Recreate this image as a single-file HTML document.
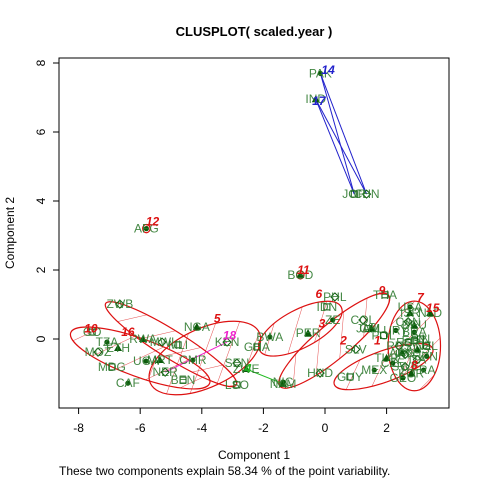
<!DOCTYPE html>
<html><head><meta charset="utf-8"><style>
body{margin:0;background:#fff;}
svg{display:block;font-family:"Liberation Sans",sans-serif;}
</style></head><body>
<svg id="chart" width="480" height="480">
<defs>
<pattern id="hatch" patternUnits="userSpaceOnUse" width="22" height="22" patternTransform="rotate(45)">
<line x1="0" y1="0" x2="0" y2="22" stroke="#d22" stroke-width="0.8"/>
</pattern>
</defs>
<text x="254" y="36" text-anchor="middle" font-size="13" font-weight="bold">CLUSPLOT( scaled.year )</text>
<rect x="59" y="58" width="390" height="350" fill="none" stroke="#000"/>
<g id="xaxis"></g>
<g id="yaxis"></g>
<g id="ellipses"></g>
<g id="links"></g>
<g id="points"></g>
<g id="clabels"></g>
<text x="254" y="459" text-anchor="middle" font-size="12">Component 1</text>
<text x="0" y="0" transform="translate(14,233) rotate(-90)" text-anchor="middle" font-size="12">Component 2</text>
<text x="59" y="475" font-size="12">These two components explain 58.34 % of the point variability.</text>
</svg>
<script>
const xTicks=[-8,-6,-4,-2,0,2];
const yTicks=[0,2,4,6,8];
const ptNames=["PAK","IND","CHN","JOR","AFG","BGD","ZWB","GO","TZA","ETH","MOZ","MDG","CAF","RWA","MWI","MLI","UGA","MRT","NER","BEN","CMR","NGA","KEN","GHA","BWA","ZWE","SEN","LSO","NIC","NAM","PHL","IDN","ZE","PER","COL","THA","USA","NLD","HND","GUY","GEO","ISR","SLV","JAM","BRA","ARG","ITA","ESP","FRA","DEU","SWE","FIN","JPN","KOR","RUS","POL","CZE","AUS","CAN","NZL","MEX","TUR","IRN","EGY","URY","CHL"];
const ptX=[-0.15,-0.3,1.35,0.95,-5.8,-0.8,-6.66,-7.56,-7.08,-6.72,-7.37,-6.92,-6.4,-5.91,-5.29,-4.77,-5.81,-5.36,-5.19,-4.61,-4.29,-4.16,-3.18,-2.21,-1.79,-2.56,-2.86,-2.86,-1.36,-1.36,0.32,0.06,0.25,-0.55,1.23,1.95,2.76,3.41,-0.16,0.81,2.53,2.76,1.0,1.4,2.9,2.5,3.0,2.7,3.2,2.9,2.6,3.1,3.3,2.8,2.4,1.9,2.2,3.0,2.7,3.3,1.6,2.0,2.6,2.9,2.3,1.5];
const ptY=[7.7,6.95,4.2,4.2,3.2,1.86,1.01,0.2,-0.09,-0.26,-0.38,-0.81,-1.28,0.0,-0.09,-0.17,-0.64,-0.61,-0.96,-1.19,-0.61,0.35,-0.09,-0.23,0.06,-0.87,-0.7,-1.33,-1.25,-1.3,1.22,0.93,0.55,0.17,0.55,1.28,0.93,0.75,-0.99,-1.1,-1.13,0.75,-0.3,0.3,0.2,-0.4,-0.6,-0.1,-0.9,0.4,-0.8,0.0,-0.5,-1.0,-0.2,0.1,-0.7,-0.3,0.5,-0.2,-0.9,-0.55,-0.45,-0.05,0.25,0.3];
const clusterLabels=["12","11","10","16","5","18","14","17","9","7","15","3","2","1","8","4","6"];
const clX=[-5.6,-0.7,-7.6,-6.4,-3.5,-3.1,0.1,-0.2,1.85,3.1,3.5,-0.1,0.6,1.7,2.9,-2.5,-0.2];
const clY=[3.4,2.0,0.3,0.2,0.6,0.1,7.8,6.9,1.4,1.2,0.9,0.45,-0.05,-0.05,-0.75,-0.85,1.3];
const clColor=["#d11","#d11","#d11","#d11","#d11","#e2c","#22c","#22c","#d11","#d11","#d11","#d11","#d11","#d11","#d11","#2b2","#d11"];
const elCx=[-6.0,-5.0,-3.9,-0.8,0.3,2.9,1.9,-5.8,-0.8];
const elCy=[-0.55,-0.15,-0.55,0.3,-0.05,-0.2,-0.8,3.2,1.86];
const elRx=[2.4,2.5,1.95,1.5,2.3,0.85,1.7,0.12,0.12];
const elRy=[0.55,0.4,0.85,0.55,0.5,1.3,0.45,0.12,0.12];
const elA=[20,32,-25,-28,-40,0,-20,0,0];
const linkFrom=[0,1,0,1,22,25];
const linkTo=[2,3,3,2,18,29];
const linkColor=["#22c","#22c","#22c","#22c","#e2c","#2b2"];

const NS="http://www.w3.org/2000/svg";
const X=v=>325+30.8*v, Y=v=>339-34.5*v;
function mk(t,a,p){const e=document.createElementNS(NS,t);for(const k in a)e.setAttribute(k,a[k]);p.appendChild(e);return e;}
const xa=document.getElementById('xaxis'),ya=document.getElementById('yaxis');
mk('line',{x1:X(-8),x2:X(2),y1:408,y2:408,stroke:'#000'},xa);
xTicks.forEach(t=>{mk('line',{x1:X(t),x2:X(t),y1:408,y2:414,stroke:'#000'},xa);
const tx=mk('text',{x:X(t),y:432,'text-anchor':'middle','font-size':12},xa);tx.textContent=t;

});
mk('line',{x1:59,x2:59,y1:Y(0),y2:Y(8),stroke:'#000'},ya);
yTicks.forEach(t=>{mk('line',{x1:53,x2:59,y1:Y(t),y2:Y(t),stroke:'#000'},ya);
const tx=mk('text',{x:0,y:0,transform:`translate(45,${Y(t)}) rotate(-90)`,'text-anchor':'middle','font-size':12},ya);tx.textContent=t;

});
const eg=document.getElementById('ellipses');
elCx.forEach((c,i)=>{const e=mk('ellipse',{cx:X(c),cy:Y(elCy[i]),rx:elRx[i]*30.8,ry:elRy[i]*34.5,transform:`rotate(${elA[i]} ${X(c)} ${Y(elCy[i])})`,fill:'url(#hatch)',stroke:'#d11','stroke-width':1.2},eg);

});
const lg=document.getElementById('links');
linkFrom.forEach((f,i)=>{const t=linkTo[i];const l=mk('line',{x1:X(ptX[f]),y1:Y(ptY[f]),x2:X(ptX[t]),y2:Y(ptY[t]),stroke:linkColor[i],'stroke-width':1},lg);

});
const pg=document.getElementById('points');
ptNames.forEach((n,i)=>{const px=X(ptX[i]),py=Y(ptY[i]);const s=i%4;let m;
if(s==0)m=mk('circle',{cx:px,cy:py,r:2.6,fill:'#0a5a0a'},pg);
else if(s==1)m=mk('polygon',{points:`${px},${py-4} ${px+4},${py+3} ${px-4},${py+3}`,fill:'#0a5a0a'},pg);
else if(s==2)m=mk('polygon',{points:`${px},${py-4} ${px+4},${py} ${px},${py+4} ${px-4},${py}`,fill:'none',stroke:'#0a5a0a'},pg);
else m=mk('rect',{x:px-3,y:py-3,width:6,height:6,fill:'none',stroke:'#0a5a0a'},pg);


const t=mk('text',{x:px,y:py+4,'text-anchor':'middle','font-size':12,fill:'#2f7a2f','fill-opacity':0.9},pg);t.textContent=n;

});
const cg=document.getElementById('clabels');
clusterLabels.forEach((c,i)=>{const t=mk('text',{x:X(clX[i]),y:Y(clY[i])+4,'text-anchor':'middle','font-size':12,'font-style':'italic','font-weight':'bold',fill:clColor[i]},cg);t.textContent=c;

});
</script>
</body></html>
